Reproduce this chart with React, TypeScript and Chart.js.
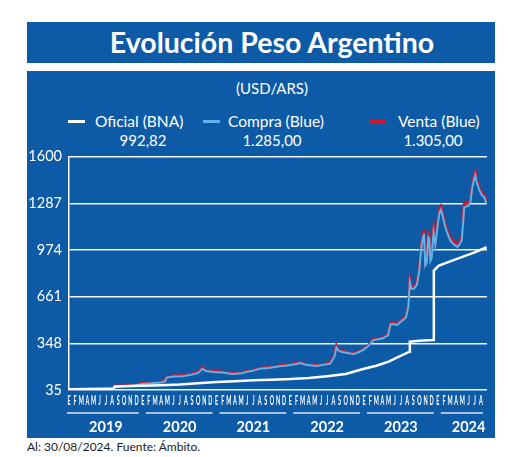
import React, { useEffect, useRef } from "react";
import { Chart, registerables } from "chart.js";

Chart.register(...registerables);

// ---- Data (x = months since Jan 2019, fractional) ----
const monthNames = ["E", "F", "M", "A", "M", "J", "J", "A", "S", "O", "N", "D"];
const monthLetters = [
  ...monthNames, ...monthNames, ...monthNames, ...monthNames, ...monthNames,
  ...monthNames.slice(0, 8),
];
const yearLabels = ["2019", "2020", "2021", "2022", "2023", "2024"];
const yearStarts = [0, 12, 24, 36, 48, 60];
const yearEnds = [12, 24, 36, 48, 60, 68];
const yearLabelPos = [6, 18, 30, 42, 54, 65];
const yTicks = [35, 348, 661, 974, 1287, 1600];

const officialMonths = [0, 3, 6, 7.3, 7.4, 9, 12, 15, 18, 21, 24, 27, 30, 33, 36, 39, 42, 45, 48, 50, 52, 53.5, 55.4, 55.45, 57, 59.3, 59.35, 60.1, 62, 64, 66, 67.95];
const officialValues = [40, 41, 43, 45, 57, 60, 63, 67, 72, 80, 88, 94, 100, 104, 108, 115, 128, 142, 178, 198, 225, 255, 292, 359, 366, 371, 835, 868, 898, 928, 958, 992.82];

const blueMonths = [0, 3, 6, 7.3, 7.45, 9, 10.5, 12, 13.5, 15, 15.6, 15.9, 17, 18.5, 20, 21, 21.7, 22.3, 23.5, 25, 26.5, 27.8, 29, 30, 31, 32.5, 34.3, 35.5, 37, 37.6, 38.5, 40.3, 41.5, 42.5, 43.2, 43.5, 43.8, 44.4, 45.5, 46.3, 47.2, 47.9, 48.7, 49.5, 50.3, 51.1, 51.9, 52.3, 52.8, 53.3, 53.8, 54.8, 55.2, 55.45, 55.7, 56.1, 56.6, 57.0, 57.3, 57.6, 57.75, 57.95, 58.2, 58.45, 58.6, 58.8, 59.0, 59.3, 59.6, 60.0, 60.3, 60.5, 60.8, 61.2, 61.6, 62.0, 62.4, 62.8, 63.2, 63.6, 63.9, 64.1, 64.3, 64.6, 65.0, 65.3, 65.6, 65.9, 66.1, 66.3, 66.7, 67.1, 67.5, 67.95];
const compraValues = [38, 40, 42, 44, 60, 62, 66, 76, 80, 85, 92, 118, 126, 128, 138, 150, 178, 162, 156, 152, 143, 145, 158, 165, 178, 183, 194, 200, 210, 216, 205, 196, 205, 212, 260, 320, 300, 290, 282, 276, 290, 304, 330, 370, 376, 382, 402, 475, 478, 470, 487, 520, 590, 760, 715, 715, 740, 840, 990, 1060, 1085, 870, 890, 1060, 1050, 900, 920, 1090, 1010, 1150, 1230, 1245, 1200, 1130, 1080, 1040, 1020, 1005, 995, 1015, 1040, 1150, 1260, 1265, 1270, 1295, 1390, 1450, 1475, 1430, 1380, 1345, 1330, 1285];
const ventaValues = [39, 41, 43, 45, 63, 65, 70, 80, 84, 90, 97, 124, 132, 134, 144, 156, 190, 168, 162, 158, 148, 150, 163, 170, 183, 188, 199, 205, 216, 222, 210, 201, 210, 218, 270, 337, 308, 296, 288, 282, 296, 310, 336, 376, 382, 388, 408, 485, 488, 480, 496, 530, 600, 780, 730, 730, 755, 860, 1010, 1085, 1110, 890, 910, 1090, 1080, 920, 940, 1120, 1030, 1175, 1255, 1270, 1220, 1150, 1100, 1060, 1040, 1025, 1015, 1035, 1060, 1175, 1295, 1285, 1290, 1315, 1410, 1475, 1500, 1450, 1400, 1365, 1350, 1305];

const PANEL = "#0d5ba6";
const FONT = "Lato, 'Open Sans', sans-serif";

function fmt(v: number): string {
  const [i, d] = v.toFixed(2).split(".");
  const withDots = i.replace(/\B(?=(\d{3})+(?!\d))/g, ".");
  return withDots + "," + d;
}

// Month letters (narrow, condensed look) and year underlines
const axisDecorPlugin = {
  id: "axisDecor",
  afterDraw(chart: any) {
    const x = chart.scales.x;
    const x2 = chart.scales.x2;
    const ctx = chart.ctx;
    ctx.save();
    ctx.fillStyle = "#ffffff";
    ctx.font = "bold 13px Lato, sans-serif";
    ctx.textAlign = "center";
    ctx.textBaseline = "middle";
    const my = x.top + 11;
    monthLetters.forEach((l, i) => {
      const px = x.getPixelForValue(i);
      ctx.save();
      ctx.translate(px, my);
      ctx.scale(0.42, 1);
      ctx.fillText(l, 0, 0);
      ctx.restore();
    });
    ctx.strokeStyle = "rgba(255,255,255,0.85)";
    ctx.lineWidth = 1.5;
    const y = x2.top + 3;
    yearStarts.forEach((s, i) => {
      const a = x.getPixelForValue(s) + (i === 0 ? -2 : 3);
      const b = x.getPixelForValue(yearEnds[i]) - 4;
      ctx.beginPath();
      ctx.moveTo(a, y);
      ctx.lineTo(b, y);
      ctx.stroke();
    });
    ctx.restore();
  },
};

function ChartCanvas() {
  const ref = useRef<HTMLCanvasElement>(null);
  useEffect(() => {
    if (!ref.current) return;
    const chart = new Chart(ref.current, {
      type: "line",
      data: {
        datasets: [
          {
            label: "Oficial (BNA)",
            data: officialMonths.map((m, i) => ({ x: m, y: officialValues[i] })),
            borderColor: "#ffffff",
            borderWidth: 2.5,
            pointRadius: 0,
            tension: 0,
          },
          {
            label: "Compra (Blue)",
            data: blueMonths.map((m, i) => ({ x: m, y: compraValues[i] })),
            borderColor: "#5eb4e8",
            borderWidth: 2,
            pointRadius: 0,
            tension: 0,
          },
          {
            label: "Venta (Blue)",
            data: blueMonths.map((m, i) => ({ x: m, y: ventaValues[i] })),
            borderColor: "#d3172c",
            borderWidth: 2.5,
            pointRadius: 0,
            tension: 0,
          },
        ],
      },
      options: {
        animation: false,
        responsive: false,
        layout: { padding: { left: 0, right: 8, top: 0, bottom: 0 } },
        plugins: { legend: { display: false }, tooltip: { enabled: false } },
        scales: {
          x: {
            type: "linear",
            min: 0,
            max: 68,
            weight: 0,
            grid: { display: false, drawTicks: false },
            border: { display: false },
            afterBuildTicks: (s: any) => {
              s.ticks = monthLetters.map((_, i) => ({ value: i }));
            },
            afterFit: (s: any) => {
              s.height = 20;
            },
            ticks: {
              autoSkip: false,
              maxRotation: 0,
              minRotation: 0,
              padding: 0,
              color: "rgba(0,0,0,0)",
              font: { size: 1 },
              callback: () => "",
            },
          },
          x2: {
            type: "linear",
            position: "bottom",
            min: 0,
            max: 68,
            weight: 1,
            grid: { display: false, drawTicks: false },
            border: { display: false },
            afterBuildTicks: (s: any) => {
              s.ticks = yearLabelPos.map((p) => ({ value: p }));
            },
            afterFit: (s: any) => {
              s.height = 28;
            },
            ticks: {
              autoSkip: false,
              maxRotation: 0,
              minRotation: 0,
              padding: 9,
              color: "#ffffff",
              font: { family: FONT, size: 14.5, weight: "bold" },
              callback: (v: any) => {
                const idx = yearLabelPos.indexOf(Number(v));
                return idx >= 0 ? yearLabels[idx] : "";
              },
            },
          },
          y: {
            type: "linear",
            min: 35,
            max: 1600,
            afterBuildTicks: (s: any) => {
              s.ticks = yTicks.map((v) => ({ value: v }));
            },
            afterFit: (s: any) => {
              s.width = 42;
            },
            grid: { color: "rgba(255,255,255,0.95)", lineWidth: 1.5, drawTicks: false },
            border: { color: "#ffffff", width: 1.5 },
            ticks: {
              padding: 7,
              color: "#ffffff",
              font: { family: FONT, size: 14.5 },
              callback: (v: any) => String(v),
            },
          },
        },
      },
      plugins: [axisDecorPlugin],
    } as any);
    return () => chart.destroy();
  }, []);
  return <canvas ref={ref} width={468} height={297} style={{ width: 468, height: 297, display: "block" }} />;
}

function LegendMark({ left, top, color }: { left: number; top: number; color: string }) {
  return <div style={{ position: "absolute", left, top, width: 17, height: 3, background: color }} />;
}

export default function App() {
  const textBase: React.CSSProperties = { position: "absolute", color: "#fff", fontFamily: FONT, whiteSpace: "nowrap" };
  const lastOfficial = officialValues[officialValues.length - 1];
  const lastCompra = compraValues[compraValues.length - 1];
  const lastVenta = ventaValues[ventaValues.length - 1];
  return (
    <div style={{ position: "fixed", left: 0, top: 0, width: 520, height: 457, background: "#fff", overflow: "hidden" }}>
      <div style={{ position: "absolute", left: 27, top: 22, width: 468, height: 41, background: PANEL }}>
        <div style={{ ...textBase, left: 11, width: 468, top: 0, height: 41, lineHeight: "41px", textAlign: "center", fontSize: 28.5, fontWeight: "bold" }}>
          Evolución Peso Argentino
        </div>
      </div>
      <div style={{ position: "absolute", left: 27, top: 71, width: 468, height: 367, background: PANEL }} />
      <div style={{ ...textBase, left: 38, width: 468, top: 79, lineHeight: "18px", textAlign: "center", fontSize: 15 }}>(USD/ARS)</div>

      <LegendMark left={68} top={119.5} color="#ffffff" />
      <div style={{ ...textBase, left: 95, top: 112, lineHeight: "18px", fontSize: 15.5 }}>Oficial (BNA)</div>
      <LegendMark left={203} top={119.5} color="#5eb4e8" />
      <div style={{ ...textBase, left: 228, top: 112, lineHeight: "18px", fontSize: 15.5 }}>Compra (Blue)</div>
      <LegendMark left={369} top={119.5} color="#d3172c" />
      <div style={{ ...textBase, left: 398, top: 112, lineHeight: "18px", fontSize: 15.5 }}>Venta (Blue)</div>

      <div style={{ ...textBase, left: 93, width: 100, top: 131, lineHeight: "18px", textAlign: "center", fontSize: 15 }}>{fmt(lastOfficial)}</div>
      <div style={{ ...textBase, left: 222, width: 100, top: 131, lineHeight: "18px", textAlign: "center", fontSize: 15 }}>{fmt(lastCompra)}</div>
      <div style={{ ...textBase, left: 383, width: 100, top: 131, lineHeight: "18px", textAlign: "center", fontSize: 15 }}>{fmt(lastVenta)}</div>

      <div style={{ position: "absolute", left: 27, top: 141 }}>
        <ChartCanvas />
      </div>

      <div style={{ position: "absolute", left: 27, top: 439, color: "#222", fontFamily: FONT, fontSize: 12, lineHeight: "16px", whiteSpace: "nowrap" }}>
        Al: 30/08/2024. Fuente: Ámbito.
      </div>
    </div>
  );
}
